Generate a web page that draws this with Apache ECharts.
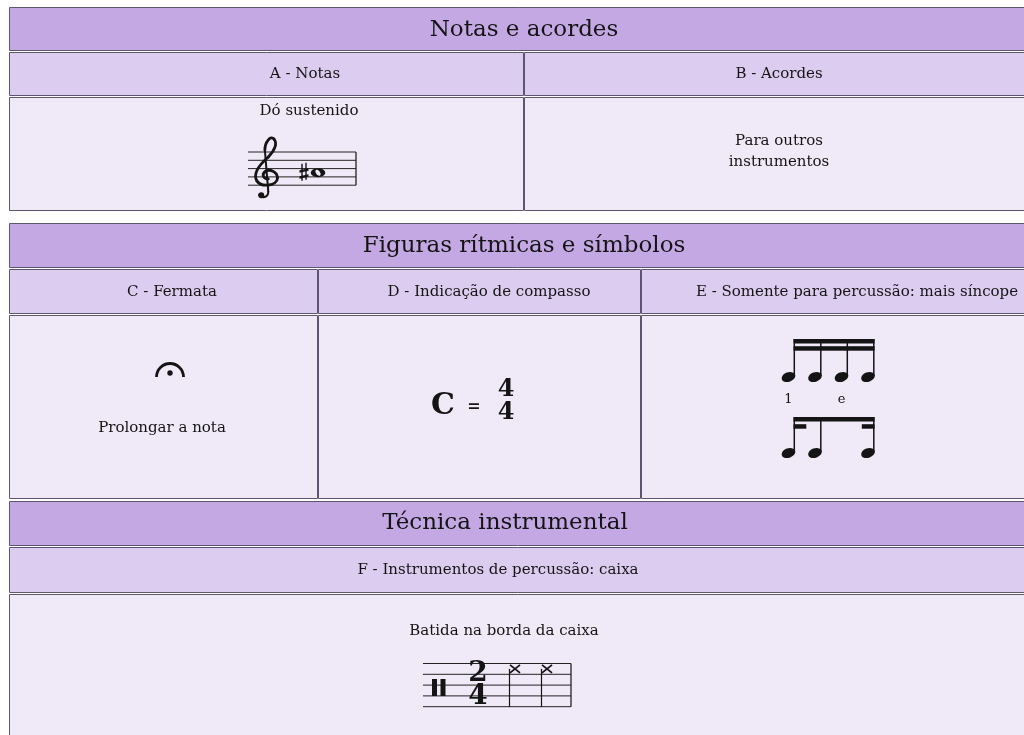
<!DOCTYPE html>
<html><head><meta charset="utf-8">
<script src="https://cdn.jsdelivr.net/npm/echarts@6/dist/echarts.min.js"></script>
<style>html,body{margin:0;padding:0;background:#fff}#main{width:1024px;height:735px}</style>
</head><body><div id="main"></div>
<script>
// ---- data (texts and rhythms) ----
const sectionTitles = ['Notas e acordes', 'Figuras rítmicas e símbolos', 'Técnica instrumental'];
const subHeaders = [
  ['A - Notas', 'B - Acordes'],
  ['C - Fermata', 'D - Indicação de compasso', 'E - Somente para percussão: mais síncope'],
  ['F - Instrumentos de percussão: caixa']
];
const noteCaption = 'Dó sustenido';
const chordCaption = ['Para outros', 'instrumentos'];
const fermataCaption = 'Prolongar a nota';
const commonTimeLabels = ['C', '=', '4', '4'];
const countLabels = ['1', 'e'];
const snareCaption = 'Batida na borda da caixa';
const snareTimeSig = ['2', '4'];
// onsets in beats and number of beams per note
const rhythmStraight = [0, 0.25, 0.5, 0.75];
const rhythmStraightBeams = [2, 2, 2, 2];
const rhythmSyncope = [0, 0.25, 0.75];
const rhythmSyncopeBeams = [2, 1, 2];
const snareOnsets = [0, 1];

// ---- styles ----
const F = '"DejaVu Serif", "Liberation Serif", serif';
const C_HEAD = '#c4a8e4', C_SUB = '#dccdf0', C_BODY = '#f0eaf8', C_LINE = '#5e5570', INK = '#141414';
const els = [];
function rect(x1, y1, x2, y2, fill) {
  els.push({type: 'rect', shape: {x: x1 + 0.5, y: y1 + 0.5, width: x2 - x1, height: y2 - y1},
    style: {fill: fill, stroke: C_LINE, lineWidth: 1}});
}
function fillRect(x1, y1, x2, y2, fill) {
  els.push({type: 'rect', shape: {x: x1, y: y1, width: x2 - x1, height: y2 - y1}, style: {fill: fill || INK}});
}
function text(t, x, y, font) {
  els.push({type: 'text', x: x, y: y, style: {text: t, font: font, fill: INK, align: 'center', verticalAlign: 'middle'}});
}
function line(x1, y1, x2, y2, w, c) {
  els.push({type: 'line', shape: {x1: x1, y1: y1, x2: x2, y2: y2}, style: {stroke: c || INK, lineWidth: w || 1}});
}
function staff(x1, x2, top, sp, w) {
  for (let i = 0; i < 5; i++) line(x1, top + i * sp, x2, top + i * sp, w || 1, '#222');
  line(x2, top, x2, top + 4 * sp, 1.3, '#222');
}

// ---- table layout ----
const sections = [
  {head: [7, 50], sub: [52, 95], body: [97, 210], cols: [9, 524, 1040], subX: [305, 779], titleX: 524, titleY: 30},
  {head: [223, 267], sub: [269, 313], body: [315, 498], cols: [9, 318, 641, 1040], subX: [172, 489, 857], titleX: 524, titleY: 246},
  {head: [501, 545], sub: [547, 592], body: [594, 760], cols: [9, 1040], subX: [498], titleX: 505, titleY: 523}
];
sections.forEach((s, si) => {
  rect(9, s.head[0], 1040, s.head[1], C_HEAD);
  text(sectionTitles[si], s.titleX, s.titleY, '23px ' + F);
  for (let c = 0; c < s.cols.length - 1; c++) {
    const x1 = s.cols[c], x2 = s.cols[c + 1] - 1;
    rect(x1, s.sub[0], x2, s.sub[1], C_SUB);
    rect(x1, s.body[0], x2, s.body[1], C_BODY);
    text(subHeaders[si][c], s.subX[c], (s.sub[0] + s.sub[1]) / 2 + 1, '15px ' + F);
  }
});

// ---- A: note ----
text(noteCaption, 309, 111, '15px ' + F);
(function () {
  const top = 152, sp = 8.3, x1 = 248, x2 = 356;
  staff(x1, x2, top, sp);
  const gy = top + 3 * sp, cx = 266, s = sp;
  const X = u => cx + u * s * 1.15, Y = v => gy + v * s;
  const W = 2.8;
  const pts = [
    [0.24, 0.24],
    [-0.24, 0.24], [-0.48, -0.24], [-0.12, -0.6],
    [0.36, -1.08], [1.2, -0.6], [1.2, 0.12],
    [1.2, 1.08], [-0.48, 1.32], [-0.96, 0.48],
    [-1.44, -0.48], [-0.48, -1.68], [0.24, -2.4],
    [0.96, -3.24], [1.2, -4.08], [0.84, -4.56],
    [0.48, -5.04], [-0.12, -4.2], [-0.12, -3.24]
  ];
  for (let i = 0; i + 3 < pts.length; i += 3) {
    const a = pts[i], b = pts[i + 1], c = pts[i + 2], d = pts[i + 3];
    els.push({type: 'bezierCurve', shape: {x1: X(a[0]), y1: Y(a[1]), cpx1: X(b[0]), cpy1: Y(b[1]), cpx2: X(c[0]), cpy2: Y(c[1]), x2: X(d[0]), y2: Y(d[1])},
      style: {stroke: INK, lineWidth: W, fill: null, lineCap: 'round'}});
  }
  line(X(-0.12), Y(-3.24), X(0.24), Y(1.8), 2.0);
  els.push({type: 'bezierCurve', shape: {x1: X(0.24), y1: Y(1.8), cpx1: X(0.24), cpy1: Y(2.52), cpx2: X(-0.48), cpy2: Y(2.64), x2: X(-0.72), y2: Y(2.16)},
    style: {stroke: INK, lineWidth: 2.0, fill: null, lineCap: 'round'}});
  els.push({type: 'circle', shape: {cx: X(-0.5), cy: Y(2.2), r: 3}, style: {fill: INK}});
  // C#5: third space
  const ny = top + 2.5 * sp, nx = 318;
  line(302, ny - 9, 302, ny + 8, 1.4);
  line(306, ny - 10, 306, ny + 7, 1.4);
  els.push({type: 'polygon', shape: {points: [[299.5, ny - 2.5], [308.5, ny - 4.5], [308.5, ny - 2], [299.5, ny]]}, style: {fill: INK}});
  els.push({type: 'polygon', shape: {points: [[299.5, ny + 3.5], [308.5, ny + 1.5], [308.5, ny + 4], [299.5, ny + 6]]}, style: {fill: INK}});
  els.push({type: 'ellipse', x: nx, y: ny, shape: {cx: 0, cy: 0, rx: 7.2, ry: 4.4}, style: {fill: INK}});
  els.push({type: 'ellipse', x: nx, y: ny, rotation: -0.9, shape: {cx: 0, cy: 0, rx: 3.4, ry: 2.0}, style: {fill: C_BODY}});
})();

// ---- B ----
text(chordCaption[0], 779, 141, '15px ' + F);
text(chordCaption[1], 779, 162, '15px ' + F);

// ---- C: fermata ----
els.push({type: 'arc', shape: {cx: 170, cy: 377, r: 13.5, startAngle: Math.PI, endAngle: 2 * Math.PI, clockwise: true},
  style: {stroke: INK, lineWidth: 2.8, fill: null}});
els.push({type: 'circle', shape: {cx: 170, cy: 373, r: 2.7}, style: {fill: INK}});
text(fermataCaption, 162, 428, '15px ' + F);

// ---- D: common time ----
text(commonTimeLabels[0], 443, 406, 'bold 30px ' + F);
text(commonTimeLabels[1], 474, 407, 'bold 16px ' + F);
text(commonTimeLabels[2], 506, 390, 'bold 24px ' + F);
text(commonTimeLabels[3], 506, 413, 'bold 24px ' + F);

// ---- E: rhythms ----
function beamGroup(onsets, beams, headY, beamTop, x0, beatW) {
  const xs = onsets.map(o => x0 + o * beatW);
  const stemX = xs.map(x => x + 5.8);
  xs.forEach((x, i) => {
    els.push({type: 'ellipse', x: x, y: headY, rotation: 0.35, shape: {cx: 0, cy: 0, rx: 7, ry: 4.8}, style: {fill: INK}});
    line(stemX[i], beamTop, stemX[i], headY - 1, 1.5);
  });
  fillRect(stemX[0] - 0.75, beamTop, stemX[stemX.length - 1] + 0.75, beamTop + 4.5);
  for (let i = 0; i < xs.length; i++) {
    if (beams[i] < 2) continue;
    const nb = i + 1 < xs.length && beams[i + 1] >= 2;
    if (nb) { fillRect(stemX[i] - 0.75, beamTop + 7.2, stemX[i + 1] + 0.75, beamTop + 11.7); continue; }
    const pb = i > 0 && beams[i - 1] >= 2;
    if (pb) continue;
    if (i === xs.length - 1) fillRect(stemX[i] - 12, beamTop + 7.2, stemX[i] + 0.75, beamTop + 11.7);
    else fillRect(stemX[i] - 0.75, beamTop + 7.2, stemX[i] + 12, beamTop + 11.7);
  }
  return xs;
}
const xs1 = beamGroup(rhythmStraight, rhythmStraightBeams, 377, 339, 788.5, 106);
text(countLabels[0], xs1[0], 400, '13px ' + F);
text(countLabels[1], xs1[2], 400, '13px ' + F);
beamGroup(rhythmSyncope, rhythmSyncopeBeams, 453, 417, 788.5, 106);

// ---- F: snare ----
text(snareCaption, 504, 631, '15px ' + F);
(function () {
  const top = 663.5, sp = 10.8;
  staff(423, 571, top, sp);
  fillRect(432, 679, 437, 696);
  fillRect(440.5, 679, 445.5, 696);
  text(snareTimeSig[0], 478, 674, 'bold 28px ' + F);
  text(snareTimeSig[1], 478, 697, 'bold 28px ' + F);
  snareOnsets.forEach(o => {
    const cx = 515 + o * 32, cy = top + 0.5 * sp;
    line(cx - 5, cy - 4, cx + 5, cy + 4, 1.8);
    line(cx - 5, cy + 4, cx + 5, cy - 4, 1.8);
    line(cx - 5.5, cy, cx - 5.5, top + 4 * sp, 1.2);
  });
})();

const chart = echarts.init(document.getElementById('main'), null, {renderer: 'canvas'});
chart.setOption({animation: false, backgroundColor: '#ffffff', graphic: {elements: els}});
</script>
</body></html>
